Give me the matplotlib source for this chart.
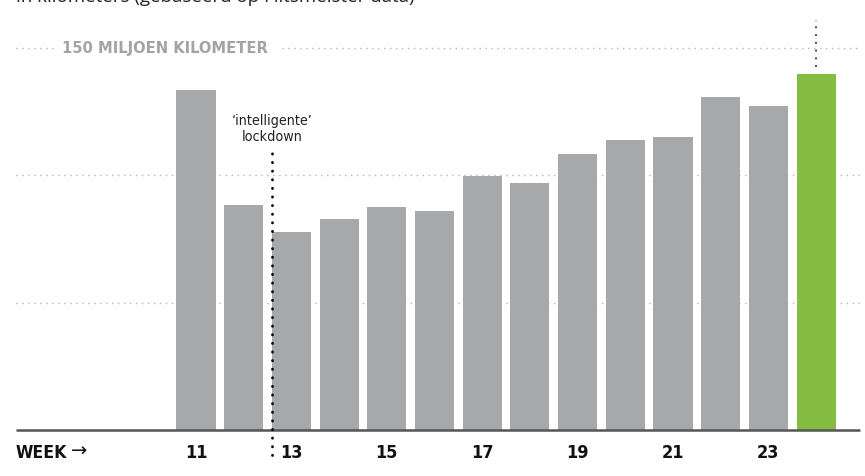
import matplotlib
matplotlib.use("Agg")
import matplotlib.pyplot as plt
from matplotlib import font_manager

# Wekelijks gereden kilometers (miljoen)
weeks = [11, 12, 13, 14, 15, 16, 17, 18, 19, 20, 21, 22, 23, 24]
km_miljoen = [133.3, 88.2, 77.6, 82.7, 87.5, 85.9, 99.6, 96.9,
              108.2, 113.7, 114.9, 130.6, 127.1, 139.6]
tick_weeks = [11, 13, 15, 17, 19, 21, 23]
grid_levels = [50, 100, 150]
lockdown_week = 12.6

GRAY = "#a7a8aa"
GREEN = "#84bd41"

# a condensed face if the system has one, otherwise a narrow sans
cond = font_manager.FontProperties(family="DejaVu Sans", stretch="condensed",
                                   weight="bold")
if "Condensed" in font_manager.findfont(cond, fallback_to_default=True):
    NARROW = dict(family=["DejaVu Sans"], fontstretch="condensed")
    SCALE = 1.0
else:
    NARROW = dict(family=["Roboto", "DejaVu Sans"])
    SCALE = 0.92

fig = plt.figure(figsize=(8.65, 4.76), dpi=100)
ax = fig.add_axes([0, 0, 1, 1])
ax.axis("off")

# pixel -> data mapping: week 11 centred at 196 px, 47.7 px per week,
# zero at 430 px from top, 2.55 px per miljoen km
ax.set_xlim(11 - 196 / 47.7, 11 + (865 - 196) / 47.7)
ax.set_ylim((430 - 476) / 2.55, 430 / 2.55)
x_left = 11 - (196 - 16) / 47.7
x_right = 11 + (860 - 196) / 47.7

# gridlines
for lvl in grid_levels:
    if lvl == 150:
        segs = [(x_left, 11 - (196 - 55) / 47.7), (11 + (282 - 196) / 47.7, x_right)]
    else:
        segs = [(x_left, x_right)]
    for a, b in segs:
        ax.plot([a, b], [lvl, lvl], color="#b4b4b4", lw=1.0,
                linestyle=(0, (1, 3.3)), zorder=1)

ax.text(11 - (196 - 62) / 47.7, 149.5, "150 MILJOEN KILOMETER", fontsize=11.8 * SCALE,
        fontweight="bold", color="#a3a3a3", ha="left", va="center", **NARROW)

colors = [GRAY] * (len(weeks) - 1) + [GREEN]
ax.bar(weeks, km_miljoen, width=0.82, color=colors, zorder=2)

# baseline
ax.plot([x_left, x_right], [0, 0], color="#555555", lw=1.8, zorder=3,
        solid_capstyle="butt")

# lockdown marker
ax.plot([lockdown_week, lockdown_week], [(430 - 455) / 2.55, (430 - 152) / 2.55],
        color="black", lw=2.0, linestyle=(0, (0.1, 3.0)),
        dash_capstyle="round", zorder=4)
ax.text(lockdown_week, (430 - 144) / 2.55, "\u2018intelligente\u2019\nlockdown",
        fontsize=10.3 * SCALE, color="#222222", ha="center", va="bottom",
        linespacing=1.15, **NARROW)

# marker above last bar
ax.plot([weeks[-1], weeks[-1]], [(430 - 67) / 2.55, (430 - 20) / 2.55],
        color="#333333", lw=1.3, linestyle=(0, (1, 3.3)), zorder=4)

# x labels
label_y = (430 - 453) / 2.55
for w in tick_weeks:
    ax.text(w, label_y, str(w), fontsize=13 * SCALE, fontweight="bold",
            color="#111111", ha="center", va="center", **NARROW)
ax.text(x_left, label_y, "WEEK", fontsize=12.6 * SCALE, fontweight="bold",
        color="#111111", ha="left", va="center", **NARROW)
ax.text(11 - (196 - 71) / 47.7, label_y + 0.6, "\u2192", fontsize=14,
        family=["DejaVu Sans"], color="#111111", ha="left", va="center")

# subtitle, cut off at the top edge as in the original
ax.text(x_left, (430 - 2) / 2.55, "in kilometers (gebaseerd op Flitsmeister data)",
        fontsize=13.5, family=["Open Sans", "DejaVu Sans"], color="#222222",
        ha="left", va="baseline")

fig.savefig("out.png", dpi=100)
